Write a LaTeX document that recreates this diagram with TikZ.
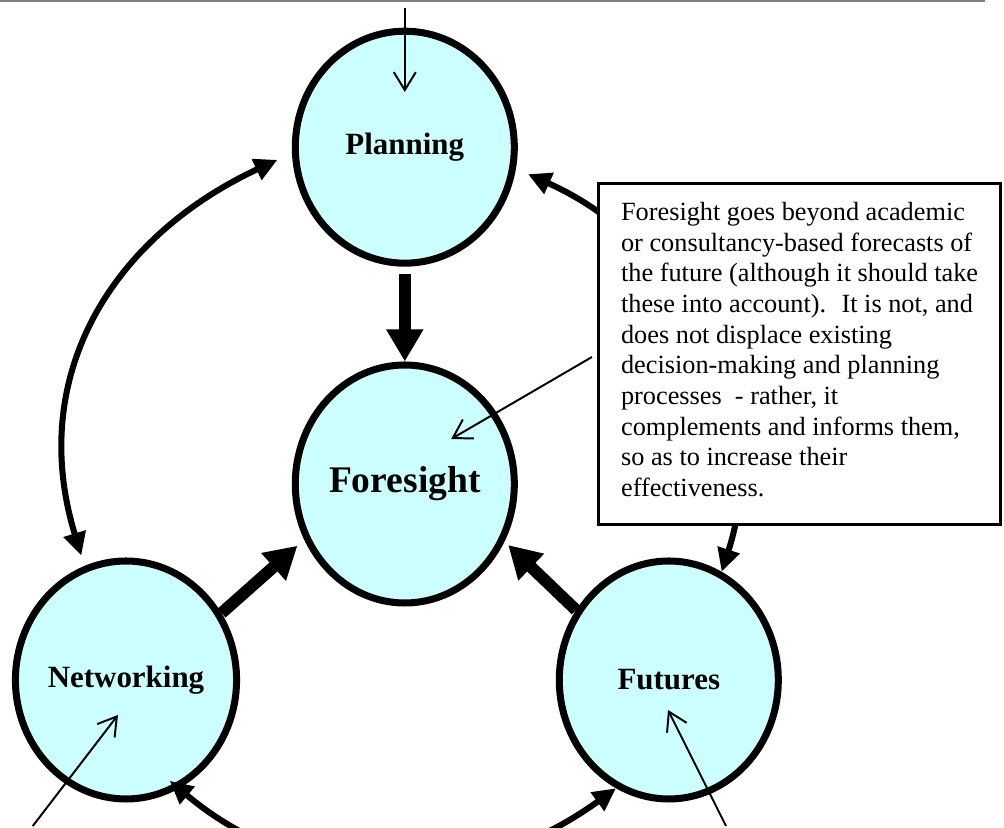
\documentclass[tikz,border=0pt]{standalone}
\usepackage{fontspec}
\setmainfont{Liberation Serif}
\usetikzlibrary{arrows.meta, shapes.geometric}

\definecolor{paleblue}{RGB}{204,255,255}

\tikzset{
	blob/.style={ellipse, draw, line width=5pt, fill=paleblue, inner sep=0pt,
		minimum width=5.475cm, minimum height=5.95cm,
		font=\bfseries\fontsize{22}{26}\selectfont},
	bigarrow/.style={line width=8.5pt, arrows={-Triangle[length=8mm,width=8.75mm]}},
	twoway/.style={line width=4.3pt, arrows={Triangle[length=5.75mm,width=5.5mm]-Triangle[length=5.75mm,width=5.5mm]}},
	thinarrow/.style={line width=1.4pt, arrows={-Straight Barb[length=4.5mm,width=5.5mm]}},
	notebox/.style={draw, line width=2.1pt, fill=white, align=left,
		minimum width=10.05cm, minimum height=8.525cm,
		font=\fontsize{18.7}{21.8}\selectfont}
}

\begin{document}
\begin{tikzpicture}
	\useasboundingbox (0,0) rectangle (25.1,20.7);
	\clip (0,0) rectangle (25.1,20.7);
	\draw[color=gray, line width=1pt] (0,20.675) -- (24.62,20.675);
	\node[blob, minimum height=5.8cm] (plan) at (10.12,17.02) {Planning};
	\node[blob, font=\bfseries\fontsize{26.7}{30}\selectfont] (fore) at (10.12,8.6) {Foresight};
	\node[blob] (netw) at (3.15,3.7) {Networking};
	\node[blob] (fut) at (16.72,3.7) {Futures};
	\draw[twoway, shorten <=4mm, shorten >=2.7mm] (plan.183) to[out=205, in=107, looseness=1.1] (netw.110);
	\draw[twoway, shorten <=3.3mm] (plan.-11) to[out=-24, in=72] (fut.64);
	\draw[twoway, shorten <=-3mm] (netw.-64) to[out=-40, in=216] (fut.-116);
	\node[notebox] (note) at (19.99,11.85) {Foresight goes beyond academic\\
		or consultancy-based forecasts of\\
		the future (although it should take\\
		these into account).~ It is not, and\\
		does not displace existing\\
		decision-making and planning\\
		processes~ - rather, it\\
		complements and informs them,\\
		so as to increase their\\
		effectiveness.\strut};
	\draw[bigarrow, shorten <=1.75mm] (plan.south) -- (fore.north);
	\draw[bigarrow, shorten >=2.25mm] (netw.35) -- (fore.209);
	\draw[bigarrow, shorten >=1.25mm] (fut.143) -- (fore.330);
	\coordinate (topin) at (10.12,20.5);
	\coordinate (plantip) at (10.12,18.4);
	\coordinate (foretip) at (11.28,9.725);
	\coordinate (netwin) at (0.82,0.05);
	\coordinate (netwtip) at (2.95,2.825);
	\coordinate (futin) at (18.15,0.05);
	\coordinate (futtip) at (16.7,2.95);
	\draw[thinarrow] (topin) -- (plantip);
	\draw[thinarrow, shorten <=1.5mm] (note.west) -- (foretip);
	\draw[thinarrow] (netwin) -- (netwtip);
	\draw[thinarrow] (futin) -- (futtip);
\end{tikzpicture}
\end{document}
